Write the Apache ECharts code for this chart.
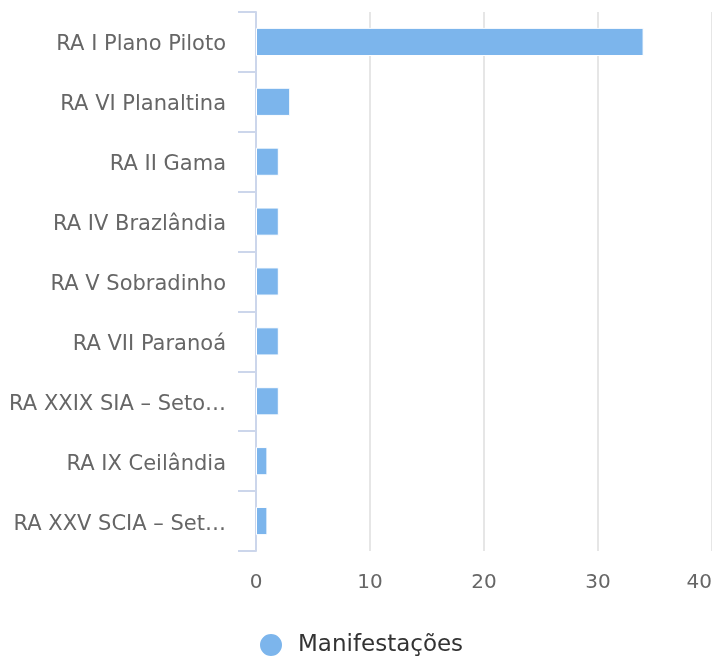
<!DOCTYPE html>
<html>
<head>
<meta charset="utf-8">
<script src="https://cdn.jsdelivr.net/npm/echarts@6/dist/echarts.min.js"></script>
<style>
  html, body { margin: 0; padding: 0; background: #fff; }
  #chart { width: 712px; height: 661px; }
</style>
</head>
<body>
<div id="chart"></div>
<script>
// regiões administrativas (de cima para baixo)
const categorias = [
  'RA I Plano Piloto',
  'RA VI Planaltina',
  'RA II Gama',
  'RA IV Brazlândia',
  'RA V Sobradinho',
  'RA VII Paranoá',
  'RA XXIX SIA – Setor de Indústria e Abastecimento',
  'RA IX Ceilândia',
  'RA XXV SCIA – Setor Complementar de Indústria e Abastecimento'
]
const manifestacoes = [34, 3, 2, 2, 2, 2, 2, 1, 1]
const eixoX = { min: 0, max: 40, interval: 10 }

const fonte = 'DejaVu Sans'
const chart = echarts.init(document.getElementById('chart'))

chart.setOption({
  animation: false,
  textStyle: { fontFamily: fonte },
  grid: { left: 256, right: 0, top: 12, bottom: 110, containLabel: false, outerBoundsMode: 'none' },
  legend: {
    bottom: -2,
    left: 253,
    icon: 'circle',
    itemWidth: 24,
    itemHeight: 24,
    textStyle: { fontSize: 23, color: '#333', fontFamily: fonte, padding: [0, 0, 0, 10] },
    data: ['Manifestações']
  },
  xAxis: {
    type: 'value',
    min: eixoX.min,
    max: eixoX.max,
    interval: eixoX.interval,
    axisLine: { show: false },
    axisTick: { show: false },
    splitLine: { lineStyle: { color: '#e6e6e6', width: 2 } },
    axisLabel: { fontSize: 20, color: '#666', margin: 22, alignMaxLabel: 'right', fontFamily: fonte }
  },
  yAxis: {
    type: 'category',
    inverse: true,
    data: categorias,
    axisLine: { show: true, lineStyle: { color: '#ccd6eb', width: 2 } },
    axisTick: { show: true, alignWithLabel: false, length: 18, lineStyle: { color: '#ccd6eb', width: 2 } },
    axisLabel: {
      fontSize: 21,
      color: '#666',
      margin: 30,
      width: 222,
      overflow: 'truncate',
      ellipsis: '…',
      // desce o texto ~3px em relação ao centro da faixa
      verticalAlign: 'top',
      lineHeight: 6,
      fontFamily: fonte
    }
  },
  series: [{
    name: 'Manifestações',
    type: 'bar',
    data: manifestacoes,
    barWidth: '47%',
    itemStyle: { color: '#7cb5ec', borderColor: '#fff', borderWidth: 1 }
  }]
})
</script>
</body>
</html>
